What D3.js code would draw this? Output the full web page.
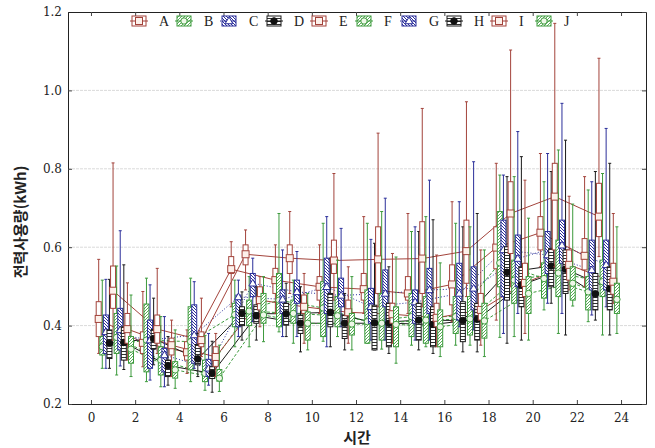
<!DOCTYPE html>
<html>
<head>
<meta charset="utf-8">
<script src="https://cdn.jsdelivr.net/npm/d3@7"></script>
<style>
  body { margin: 0; background: #fff; }
  svg { display: block; }
</style>
</head>
<body>
<svg id="chart" width="655" height="448"></svg>
<script>
// Groups, in legend order
const groups = ["A", "B", "C", "D", "E", "F", "G", "H", "I", "J"];
// Start hour of each two-hour slot
const slotStart = [0, 2, 4, 6, 8, 10, 12, 14, 16, 18, 20, 22];
// Axis ticks
const xTicks = [0, 2, 4, 6, 8, 10, 12, 14, 16, 18, 20, 22, 24];
const yTicks = [0.2, 0.4, 0.6, 0.8, 1.0, 1.2];

// Median (marker) per group, one row per group A..J
const median = [
  [0.417, 0.356, 0.332, 0.544, 0.516, 0.499, 0.493, 0.482, 0.505, 0.599, 0.637, 0.578],
  [0.346, 0.363, 0.359, 0.428, 0.465, 0.445, 0.410, 0.423, 0.423, 0.560, 0.520, 0.486],
  [0.384, 0.363, 0.376, 0.473, 0.467, 0.499, 0.448, 0.460, 0.482, 0.593, 0.580, 0.542],
  [0.355, 0.367, 0.315, 0.431, 0.430, 0.434, 0.407, 0.414, 0.413, 0.536, 0.552, 0.481],
  [0.489, 0.391, 0.363, 0.582, 0.572, 0.566, 0.569, 0.571, 0.590, 0.686, 0.729, 0.678],
  [0.370, 0.312, 0.278, 0.437, 0.431, 0.425, 0.406, 0.414, 0.417, 0.516, 0.534, 0.512],
  [0.389, 0.325, 0.291, 0.508, 0.486, 0.477, 0.482, 0.491, 0.495, 0.571, 0.605, 0.555],
  [0.357, 0.298, 0.278, 0.425, 0.406, 0.406, 0.406, 0.403, 0.416, 0.504, 0.544, 0.494],
  [0.391, 0.350, 0.320, 0.465, 0.448, 0.434, 0.429, 0.420, 0.440, 0.509, 0.555, 0.512],
  [0.340, 0.287, 0.266, 0.427, 0.406, 0.404, 0.403, 0.397, 0.412, 0.482, 0.508, 0.467]
];
// Upper edge of box
const q3 = [
  [0.461, 0.384, 0.359, 0.576, 0.546, 0.525, 0.533, 0.525, 0.555, 0.652, 0.678, 0.622],
  [0.372, 0.455, 0.448, 0.457, 0.533, 0.512, 0.491, 0.482, 0.474, 0.691, 0.560, 0.525],
  [0.427, 0.414, 0.453, 0.478, 0.491, 0.572, 0.495, 0.491, 0.559, 0.669, 0.640, 0.618],
  [0.389, 0.390, 0.352, 0.448, 0.457, 0.482, 0.452, 0.457, 0.461, 0.601, 0.597, 0.533],
  [0.552, 0.427, 0.384, 0.606, 0.606, 0.618, 0.652, 0.665, 0.669, 0.767, 0.814, 0.763],
  [0.431, 0.346, 0.312, 0.465, 0.465, 0.474, 0.482, 0.474, 0.474, 0.567, 0.618, 0.567],
  [0.444, 0.342, 0.314, 0.533, 0.516, 0.521, 0.542, 0.546, 0.550, 0.631, 0.669, 0.618],
  [0.397, 0.312, 0.295, 0.453, 0.427, 0.427, 0.457, 0.448, 0.457, 0.550, 0.593, 0.550],
  [0.431, 0.368, 0.346, 0.499, 0.478, 0.465, 0.457, 0.457, 0.482, 0.559, 0.593, 0.559],
  [0.372, 0.308, 0.288, 0.482, 0.435, 0.431, 0.448, 0.440, 0.457, 0.525, 0.550, 0.508]
];
// Lower edge of box
const q1 = [
  [0.372, 0.329, 0.312, 0.533, 0.482, 0.465, 0.465, 0.465, 0.453, 0.545, 0.593, 0.542],
  [0.325, 0.282, 0.287, 0.397, 0.397, 0.372, 0.355, 0.372, 0.380, 0.499, 0.470, 0.440],
  [0.329, 0.291, 0.304, 0.397, 0.431, 0.431, 0.406, 0.406, 0.414, 0.474, 0.533, 0.491],
  [0.316, 0.340, 0.300, 0.400, 0.401, 0.397, 0.338, 0.363, 0.359, 0.465, 0.499, 0.440],
  [0.444, 0.355, 0.346, 0.555, 0.533, 0.533, 0.482, 0.482, 0.508, 0.584, 0.593, 0.627],
  [0.329, 0.274, 0.257, 0.400, 0.406, 0.397, 0.363, 0.355, 0.376, 0.457, 0.474, 0.474],
  [0.338, 0.282, 0.270, 0.474, 0.457, 0.448, 0.448, 0.431, 0.440, 0.499, 0.559, 0.491],
  [0.312, 0.270, 0.265, 0.406, 0.380, 0.367, 0.346, 0.346, 0.363, 0.448, 0.482, 0.440],
  [0.355, 0.325, 0.296, 0.440, 0.431, 0.427, 0.406, 0.397, 0.414, 0.474, 0.516, 0.480],
  [0.304, 0.266, 0.258, 0.406, 0.363, 0.376, 0.346, 0.346, 0.368, 0.431, 0.465, 0.431]
];
// Whisker top
const hi = [
  [0.569, 0.487, 0.389, 0.614, 0.606, 0.606, 0.678, 0.686, 0.716, 0.814, 0.839, 0.780],
  [0.516, 0.521, 0.521, 0.516, 0.686, 0.661, 0.661, 0.640, 0.661, 0.784, 0.767, 0.746],
  [0.518, 0.504, 0.512, 0.516, 0.593, 0.678, 0.620, 0.652, 0.716, 0.784, 0.839, 0.767],
  [0.518, 0.470, 0.380, 0.486, 0.508, 0.572, 0.610, 0.640, 0.652, 0.780, 0.793, 0.793],
  [0.815, 0.546, 0.470, 0.644, 0.691, 0.788, 0.891, 0.954, 0.971, 1.103, 1.171, 1.082],
  [0.552, 0.423, 0.375, 0.525, 0.516, 0.567, 0.691, 0.678, 0.652, 0.780, 0.848, 0.788],
  [0.642, 0.423, 0.380, 0.572, 0.589, 0.648, 0.725, 0.771, 0.818, 0.895, 0.967, 0.903],
  [0.555, 0.372, 0.360, 0.499, 0.499, 0.482, 0.550, 0.670, 0.686, 0.831, 0.873, 0.814],
  [0.509, 0.414, 0.380, 0.525, 0.533, 0.550, 0.584, 0.580, 0.593, 0.771, 0.730, 0.686],
  [0.478, 0.389, 0.350, 0.525, 0.482, 0.525, 0.575, 0.560, 0.593, 0.674, 0.710, 0.652]
];
// Whisker bottom
const lo = [
  [0.329, 0.295, 0.278, 0.448, 0.431, 0.431, 0.431, 0.431, 0.410, 0.414, 0.550, 0.499],
  [0.291, 0.257, 0.257, 0.346, 0.384, 0.360, 0.355, 0.350, 0.350, 0.370, 0.440, 0.410],
  [0.291, 0.261, 0.291, 0.372, 0.372, 0.346, 0.363, 0.363, 0.397, 0.380, 0.457, 0.427],
  [0.291, 0.300, 0.270, 0.363, 0.372, 0.346, 0.338, 0.338, 0.333, 0.355, 0.457, 0.414],
  [0.363, 0.329, 0.321, 0.491, 0.482, 0.465, 0.448, 0.448, 0.474, 0.499, 0.550, 0.576],
  [0.274, 0.244, 0.235, 0.346, 0.355, 0.372, 0.340, 0.346, 0.350, 0.372, 0.380, 0.376],
  [0.297, 0.244, 0.248, 0.410, 0.372, 0.397, 0.363, 0.363, 0.389, 0.431, 0.431, 0.448],
  [0.288, 0.248, 0.230, 0.363, 0.333, 0.338, 0.329, 0.329, 0.333, 0.363, 0.376, 0.376],
  [0.312, 0.270, 0.270, 0.397, 0.355, 0.355, 0.355, 0.346, 0.350, 0.380, 0.491, 0.457],
  [0.270, 0.240, 0.232, 0.359, 0.338, 0.338, 0.304, 0.321, 0.321, 0.363, 0.450, 0.380]
];

const W = 655, H = 448;
const margin = { top: 12, right: 9, bottom: 44, left: 68 };

const svg = d3.select("#chart");

// Four visual styles cycle through the groups
const styles = [
  { color: "#a3433b", fill: "#fff",         marker: "square",   dash: null },
  { color: "#3c9a3c", fill: "url(#hatchG)", marker: "circle",   dash: "3,2" },
  { color: "#2b2f9a", fill: "url(#hatchB)", marker: "triangle", dash: "1,2" },
  { color: "#1a1a1a", fill: "url(#hatchK)", marker: "dot",      dash: null }
];
const styleOf = k => styles[k % 4];

// Fill patterns for the boxes
const defs = svg.append("defs");
function diagPattern(id, color, dir, width) {
  const p = defs.append("pattern").attr("id", id)
    .attr("patternUnits", "userSpaceOnUse").attr("width", 3).attr("height", 3);
  p.append("rect").attr("width", 3).attr("height", 3).attr("fill", "#fff");
  p.append("path")
    .attr("d", dir > 0 ? "M-1,4 L4,-1 M-1,1 L1,-1 M2,4 L4,2" : "M-1,-1 L4,4 M2,-1 L4,1 M-1,2 L1,4")
    .attr("stroke", color).attr("stroke-width", width);
}
diagPattern("hatchG", "#46a546", 1, 0.9);
diagPattern("hatchB", "#2b2f9a", -1, 1.0);
const pk = defs.append("pattern").attr("id", "hatchK")
  .attr("patternUnits", "userSpaceOnUse").attr("width", 4).attr("height", 3);
pk.append("rect").attr("width", 4).attr("height", 3).attr("fill", "#fff");
pk.append("line").attr("x1", 0).attr("x2", 4).attr("y1", 0.5).attr("y2", 0.5)
  .attr("stroke", "#1a1a1a").attr("stroke-width", 0.9);

const x = d3.scaleLinear().domain([-1.04, 25.13]).range([margin.left, W - margin.right]);
const y = d3.scaleLinear().domain([0.2, 1.2]).range([H - margin.bottom, margin.top]);

// Position of group k inside a slot
const xPos = (i, k) => x(slotStart[i] + 0.35 + 0.1625 * k);

// Gridlines
svg.append("g").selectAll("line")
  .data(yTicks.filter(v => v > 0.2 && v < 1.2))
  .join("line")
  .attr("x1", margin.left).attr("x2", W - margin.right)
  .attr("y1", d => y(d)).attr("y2", d => y(d))
  .attr("stroke", "#dadada").attr("stroke-width", 1).attr("stroke-dasharray", "3,1");

// Axes (ticks pointing inward)
const axisFont = "'DejaVu Serif', serif";
const gx = svg.append("g").attr("transform", `translate(0,${H - margin.bottom})`)
  .call(d3.axisBottom(x).tickValues(xTicks).tickSizeInner(-4).tickSizeOuter(0).tickPadding(9)
    .tickFormat(d3.format("d")));
const gy = svg.append("g").attr("transform", `translate(${margin.left},0)`)
  .call(d3.axisLeft(y).tickValues(yTicks).tickSizeInner(-4).tickSizeOuter(0).tickPadding(6)
    .tickFormat(d3.format(".1f")));
const gt = svg.append("g").attr("transform", `translate(0,${margin.top})`)
  .call(d3.axisTop(x).tickValues(xTicks).tickSizeInner(-4).tickSizeOuter(0).tickFormat(""));
const gr = svg.append("g").attr("transform", `translate(${W - margin.right},0)`)
  .call(d3.axisRight(y).tickValues(yTicks).tickSizeInner(-4).tickSizeOuter(0).tickFormat(""));
[gx, gy, gt, gr].forEach(g => {
  g.selectAll(".domain").attr("stroke", "#222");
  g.selectAll(".tick line").attr("stroke", "#444");
  g.selectAll("text").attr("font-family", axisFont).attr("font-size", 12).attr("fill", "#222");
});

// Median lines per group
const line = d3.line();
groups.forEach((g, k) => {
  const st = styleOf(k);
  svg.append("path")
    .datum(median[k].map((v, i) => [xPos(i, k), y(v)]))
    .attr("d", line)
    .attr("fill", "none")
    .attr("stroke", st.color)
    .attr("stroke-width", 1)
    .attr("stroke-dasharray", st.dash);
});

function drawMarker(sel, type, color, cx, cy) {
  if (type === "square") {
    sel.append("rect").attr("x", cx - 3.5).attr("y", cy - 3.5).attr("width", 7).attr("height", 7)
      .attr("fill", "#fdf0ea").attr("stroke", color).attr("stroke-width", 1);
  } else if (type === "circle") {
    sel.append("circle").attr("cx", cx).attr("cy", cy).attr("r", 3.2)
      .attr("fill", "#eef8e8").attr("stroke", color).attr("stroke-width", 1);
  } else if (type === "triangle") {
    sel.append("path").attr("d", d3.symbol(d3.symbolTriangle, 26)())
      .attr("transform", `translate(${cx},${cy + 0.5})`)
      .attr("fill", "#fff").attr("stroke", color).attr("stroke-width", 1);
  } else {
    sel.append("circle").attr("cx", cx).attr("cy", cy).attr("r", 3.3)
      .attr("fill", "#111").attr("stroke", "#111");
  }
}

// Whiskers, boxes and markers
groups.forEach((g, k) => {
  const st = styleOf(k);
  const grp = svg.append("g");
  slotStart.forEach((s, i) => {
    const cx = xPos(i, k);
    grp.append("line").attr("x1", cx).attr("x2", cx)
      .attr("y1", y(hi[k][i])).attr("y2", y(lo[k][i]))
      .attr("stroke", st.color).attr("stroke-width", 1);
    [hi[k][i], lo[k][i]].forEach(v => {
      grp.append("line").attr("x1", cx - 1.5).attr("x2", cx + 1.5)
        .attr("y1", y(v)).attr("y2", y(v))
        .attr("stroke", st.color).attr("stroke-width", 1);
    });
    grp.append("rect")
      .attr("x", cx - 2.5).attr("width", 5)
      .attr("y", y(q3[k][i])).attr("height", y(q1[k][i]) - y(q3[k][i]))
      .attr("fill", st.fill).attr("stroke", st.color).attr("stroke-width", 1);
  });
  slotStart.forEach((s, i) => {
    drawMarker(grp, st.marker, st.color, xPos(i, k), y(median[k][i]));
  });
});

// Legend
const legend = svg.append("g");
groups.forEach((g, k) => {
  const st = styleOf(k);
  const lx = 132 + 45 * k, ly = 16;
  const item = legend.append("g");
  item.append("line").attr("x1", lx - 2).attr("x2", lx + 16).attr("y1", ly + 5).attr("y2", ly + 5)
    .attr("stroke", st.color).attr("stroke-width", 1).attr("stroke-dasharray", st.dash);
  item.append("rect").attr("x", lx).attr("y", ly).attr("width", 14).attr("height", 10)
    .attr("fill", st.fill).attr("stroke", st.color).attr("stroke-width", 1);
  item.append("line").attr("x1", lx).attr("x2", lx + 14).attr("y1", ly + 5).attr("y2", ly + 5)
    .attr("stroke", st.color).attr("stroke-width", 1);
  drawMarker(item, st.marker, st.color, lx + 7, ly + 5);
  item.append("text").attr("x", lx + 27).attr("y", ly + 10)
    .attr("font-family", "'Liberation Serif', serif").attr("font-size", 14)
    .attr("fill", "#222").text(g);
});

// Axis titles
svg.append("text")
  .attr("x", (margin.left + W - margin.right) / 2).attr("y", 443)
  .attr("text-anchor", "middle")
  .attr("font-family", "'Noto Sans CJK KR', sans-serif").attr("font-size", 15).attr("font-weight", "bold")
  .attr("fill", "#222").text("시간");
svg.append("text")
  .attr("transform", "translate(26,222) rotate(-90)")
  .attr("text-anchor", "middle")
  .attr("font-family", "'Noto Sans CJK KR', sans-serif").attr("font-size", 15).attr("font-weight", "bold")
  .attr("fill", "#222").text("전력사용량(kWh)");
</script>
</body>
</html>
